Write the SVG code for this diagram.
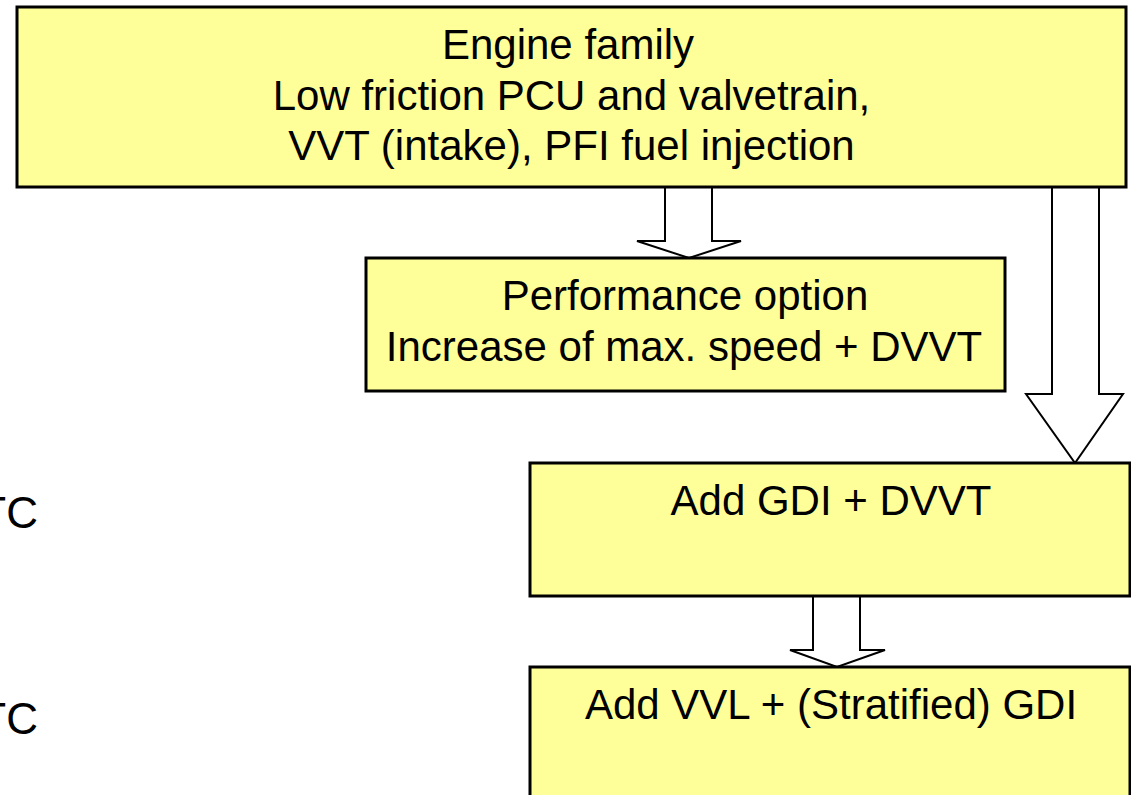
<svg xmlns="http://www.w3.org/2000/svg" width="1131" height="795" viewBox="0 0 1131 795">
<style>
.box{fill:#FFFF99;stroke:#000;stroke-width:3}
.arr{fill:#fff;stroke:#000;stroke-width:2;stroke-linejoin:miter}
.t{font-family:"Liberation Sans",Arial,sans-serif;font-size:42px;fill:#000;text-anchor:middle}
.side{font-family:"Liberation Sans",Arial,sans-serif;font-size:44px;fill:#000;text-anchor:end}
</style>
<rect width="1131" height="795" fill="#fff"/>
<g id="side-labels">
<text class="side" x="38" y="528">TC</text>
<text class="side" x="38" y="734">TC</text>
</g>
<g id="connectors">
<path class="arr" d="M665,187 V241 H637 L689,258 L741,241 H712 V187"/>
<path class="arr" d="M1052,187 V394 H1026 L1075,463 L1123,394 H1099 V187"/>
<path class="arr" d="M813,596 V650 H790 L837,667 L885,650 H860 V596"/>
</g>
<g id="engine-family">
<rect class="box" x="17" y="7" width="1109" height="180"/>
<text class="t" x="568" y="59">Engine family</text>
<text class="t" x="571.5" y="110">Low friction PCU and valvetrain,</text>
<text class="t" x="571.5" y="160">VVT (intake), PFI fuel injection</text>
</g>
<g id="performance-option">
<rect class="box" x="366" y="258" width="639" height="133"/>
<text class="t" x="685" y="310">Performance option</text>
<text class="t" x="684" y="361">Increase of max. speed + DVVT</text>
</g>
<g id="add-gdi">
<rect class="box" x="530" y="463" width="600" height="133"/>
<text class="t" x="831" y="515">Add GDI + DVVT</text>
</g>
<g id="add-vvl">
<rect class="box" x="530" y="667" width="600" height="140"/>
<text class="t" x="831" y="719">Add VVL + (Stratified) GDI</text>
</g>
</svg>
